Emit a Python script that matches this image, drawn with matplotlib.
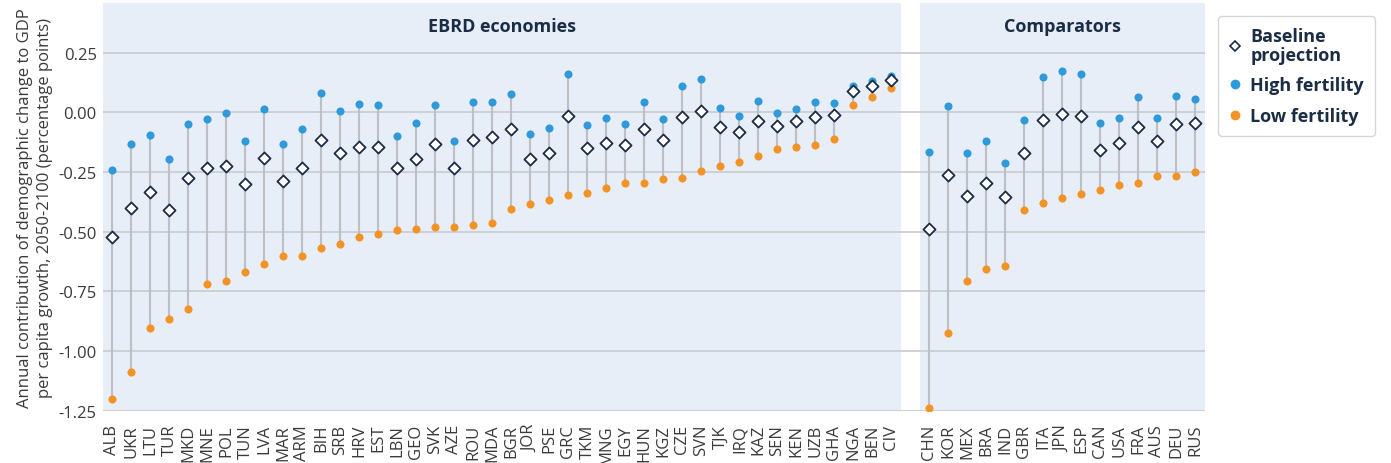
import numpy as np
import matplotlib.pyplot as plt
from matplotlib.lines import Line2D

plt.rcParams['font.family'] = ['Open Sans', 'DejaVu Sans']

# EBRD economies
ebrd = ['ALB', 'UKR', 'LTU', 'TUR', 'MKD', 'MNE', 'POL', 'TUN', 'LVA', 'MAR', 'ARM',
        'BIH', 'SRB', 'HRV', 'EST', 'LBN', 'GEO', 'SVK', 'AZE', 'ROU', 'MDA', 'BGR',
        'JOR', 'PSE', 'GRC', 'TKM', 'MNG', 'EGY', 'HUN', 'KGZ', 'CZE', 'SVN', 'TJK',
        'IRQ', 'KAZ', 'SEN', 'KEN', 'UZB', 'GHA', 'NGA', 'BEN', 'CIV']
ebrd_base = [-0.522, -0.399, -0.335, -0.408, -0.276, -0.232, -0.225, -0.299, -0.190, -0.286, -0.235,
             -0.117, -0.170, -0.144, -0.147, -0.235, -0.194, -0.134, -0.235, -0.116, -0.103, -0.071,
             -0.197, -0.172, -0.017, -0.148, -0.127, -0.136, -0.071, -0.115, -0.021, 0.005, -0.063,
             -0.081, -0.036, -0.056, -0.038, -0.018, -0.011, 0.088, 0.110, 0.136]
ebrd_high = [-0.243, -0.134, -0.095, -0.197, -0.050, -0.027, -0.004, -0.119, 0.014, -0.131, -0.071,
             0.080, 0.004, 0.033, 0.032, -0.098, -0.045, 0.032, -0.121, 0.043, 0.043, 0.077,
             -0.091, -0.064, 0.159, -0.052, -0.023, -0.049, 0.044, -0.027, 0.109, 0.141, 0.017,
             -0.014, 0.046, -0.004, 0.015, 0.043, 0.040, 0.111, 0.130, 0.153]
ebrd_low = [-1.200, -1.088, -0.904, -0.865, -0.823, -0.719, -0.705, -0.670, -0.635, -0.604, -0.603,
            -0.568, -0.553, -0.521, -0.508, -0.494, -0.490, -0.479, -0.479, -0.473, -0.462, -0.406,
            -0.384, -0.367, -0.347, -0.339, -0.317, -0.296, -0.296, -0.279, -0.274, -0.246, -0.225,
            -0.208, -0.182, -0.152, -0.147, -0.136, -0.113, 0.031, 0.065, 0.103]

# Comparators
comp = ['CHN', 'KOR', 'MEX', 'BRA', 'IND', 'GBR', 'ITA', 'JPN', 'ESP', 'CAN', 'USA',
        'FRA', 'AUS', 'DEU', 'RUS']
comp_base = [-0.491, -0.262, -0.349, -0.296, -0.357, -0.169, -0.032, -0.007, -0.014, -0.157, -0.127,
             -0.063, -0.120, -0.050, -0.046]
comp_high = [-0.165, 0.028, -0.169, -0.120, -0.213, -0.032, 0.146, 0.173, 0.159, -0.045, -0.023,
             0.065, -0.025, 0.070, 0.056]
comp_low = [-1.239, -0.925, -0.705, -0.655, -0.645, -0.409, -0.380, -0.359, -0.341, -0.325, -0.306,
            -0.295, -0.269, -0.267, -0.250]

labels = ebrd + comp
base = np.array(ebrd_base + comp_base)
high = np.array(ebrd_high + comp_high)
low = np.array(ebrd_low + comp_low)
x = np.concatenate([np.arange(len(ebrd)), np.arange(len(comp)) + len(ebrd) + 1])

navy = '#1B2D45'
blue = '#2F9ADA'
orange = '#F39325'
shade = '#E7EEF8'

fig = plt.figure(figsize=(13.91, 4.64), dpi=100)
ax = fig.add_axes([0.0740, 0.1127, 0.7922, 0.8787])

n1 = len(ebrd)
ax.axvspan(-0.5, n1 - 0.5, color=shade, zorder=0, lw=0)
ax.axvspan(n1 + 0.5, x[-1] + 0.5, color=shade, zorder=0, lw=0)

lo = np.minimum(np.minimum(low, high), base)
hi = np.maximum(np.maximum(low, high), base)
ax.vlines(x, lo, hi, color='#BDBFC4', lw=1.5, zorder=2)
ax.scatter(x, high, s=34, color=blue, zorder=3, lw=0)
ax.scatter(x, low, s=34, color=orange, zorder=3, lw=0)
ax.scatter(x, base, s=38, marker='D', facecolor='white', edgecolor=navy, lw=1.3, zorder=4)

ax.set_xlim(-0.5, x[-1] + 0.5)
ax.set_ylim(-1.25, 0.4575)
ax.set_yticks([0.25, 0.0, -0.25, -0.5, -0.75, -1.0, -1.25])
ax.set_yticklabels(['0.25', '0.00', '-0.25', '-0.50', '-0.75', '-1.00', '-1.25'])
ax.set_xticks(x)
ax.set_xticklabels(labels, rotation=90)
ax.tick_params(axis='both', length=0, labelsize=12, labelcolor='#3A3A3A')
ax.tick_params(axis='x', pad=9.5)
ax.tick_params(axis='y', pad=4.5)
ax.grid(axis='y', color='#C8CACF', lw=1.2)
ax.set_axisbelow(True)
for s in ax.spines.values():
    s.set_visible(False)

ax.set_ylabel('Annual contribution of demographic change to GDP\nper capita growth, 2050-2100 (percentage points)',
              fontsize=12, color='#3A3A3A', labelpad=4, linespacing=1.3)

ax.text((n1 - 1) / 2, 0.361, 'EBRD economies', ha='center', va='center',
        fontsize=13, fontweight='bold', color=navy)
ax.text((n1 + 1 + x[-1]) / 2, 0.361, 'Comparators', ha='center', va='center',
        fontsize=13, fontweight='bold', color=navy)

handles = [
    Line2D([], [], marker='D', ls='', markerfacecolor='white', markeredgecolor=navy, markersize=5.5, mew=1.2),
    Line2D([], [], marker='o', ls='', color=blue, markersize=6),
    Line2D([], [], marker='o', ls='', color=orange, markersize=6),
]
leg = fig.legend(handles, ['Baseline\nprojection', 'High fertility', 'Low fertility'],
                 loc='upper left', bbox_to_anchor=(0.8756, 0.963), frameon=True,
                 prop={'weight': 'bold', 'size': 13}, handlelength=0.7, handletextpad=0.5,
                 labelspacing=0.7, borderpad=0.6, borderaxespad=0, fancybox=True)
leg.get_frame().set_edgecolor('#CCCCCC')
leg.get_frame().set_linewidth(1.0)
for t in leg.get_texts():
    t.set_color(navy)
    t.set_linespacing(1.05)

fig.savefig('out.png', dpi=100)
